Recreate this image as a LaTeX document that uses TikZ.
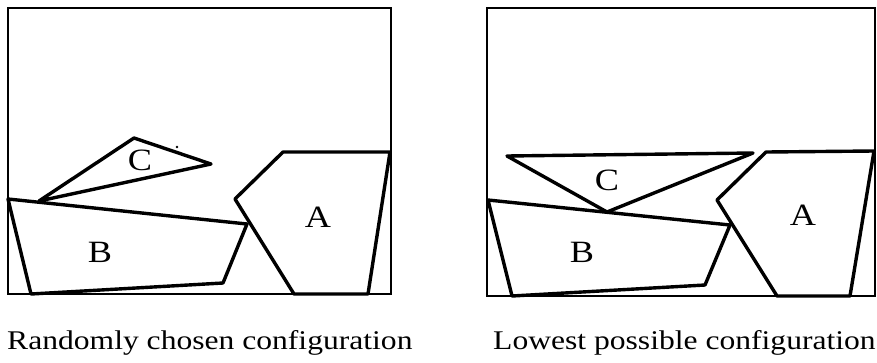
\documentclass[tikz,border=0pt]{standalone}
\usepackage{fontspec}
\setmainfont{Liberation Serif}[FakeStretch=1.17]
\tikzset{
  frame/.style={line width=2.6pt},
  piece/.style={line width=3.4pt, line join=round},
  letter/.style={font=\fontsize{31}{34}\selectfont, inner sep=0pt},
  caption/.style={font=\fontsize{27}{30}\selectfont, inner sep=0pt, anchor=base west}
}
\begin{document}
\begin{tikzpicture}[x=1pt, y=-1pt]
    \useasboundingbox (0,0) rectangle (877,362);
    % Random configuration
    \draw[frame] (8,8) rectangle (391,294);
    \draw[piece] (283,152) -- (390,152) -- (368,294) -- (294,294) -- (235,199) -- cycle;
    \draw[piece] (8,199) -- (247,224) -- (223,283) -- (31,294) -- cycle;
    \draw[piece] (39,201) -- (134,138) -- (211,164) -- cycle;
    \fill (177,147) circle (1.4);
    \node[letter] (cL) at (140,160) {C};
    \node[letter] (aL) at (318,217) {A};
    \node[letter] (bL) at (100,252) {B};
    % Lowest configuration
    \draw[frame] (487,8) rectangle (875,296);
    \draw[piece] (766,152) -- (874,151) -- (850,296) -- (777,296) -- (717,200) -- cycle;
    \draw[piece] (488,200) -- (730,225) -- (705,285) -- (512,296) -- cycle;
    \draw[piece] (507,156) -- (753,153) -- (607,212) -- cycle;
    \node[letter] (cR) at (607,180) {C};
    \node[letter] (aR) at (803,215) {A};
    \node[letter] (bR) at (582,252) {B};
    % Captions
    \node[caption] (capL) at (7,349) {Randomly chosen configuration};
    \node[caption] (capR) at (493,349) {Lowest possible configuration};
\end{tikzpicture}
\end{document}
